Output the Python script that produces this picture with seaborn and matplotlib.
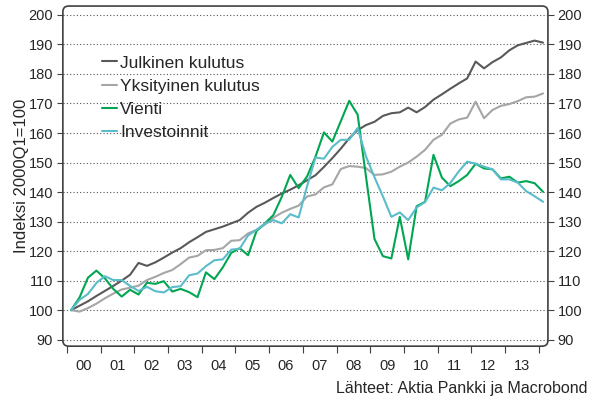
import numpy as np
import pandas as pd
import matplotlib
matplotlib.use('Agg')
import matplotlib.pyplot as plt
import seaborn as sns
from matplotlib.patches import FancyBboxPatch

# neljännesvuodet 2000Q1 - 2014Q1
quarters = pd.period_range('2000Q1', '2014Q1', freq='Q')

julkinen = [100, 101.5, 103, 104.8, 106.5, 108.2, 110, 112, 116, 115,
            116.2, 117.8, 119.5, 121, 123, 124.7, 126.5, 127.4, 128.3, 129.4,
            130.5, 133, 135, 136.4, 138, 139.5, 140.8, 142.3, 144, 145.7,
            148.5, 151.5, 154.7, 158.2, 161, 162.7, 163.8, 165.8, 166.7, 167,
            168.6, 167, 168.8, 171.3, 173.1, 175, 176.8, 178.5, 184.2, 181.9,
            184, 185.6, 188, 189.7, 190.5, 191.3, 190.6]
yksityinen = [100, 99.5, 100.7, 102.2, 104, 105.6, 107, 107.6, 108.3, 110.2,
              111.3, 112.6, 113.6, 115.6, 117.8, 118.4, 120.3, 120.4, 121, 123.5,
              123.7, 126, 127.2, 129, 131.3, 133, 134.3, 135.4, 138.5, 139.2,
              141.6, 142.6, 147.8, 148.8, 148.6, 148.1, 145.8, 146, 146.9, 148.6,
              150, 152, 154.3, 157.7, 159.4, 163.2, 164.6, 165.2, 170.6, 165,
              167.8, 169.2, 169.8, 170.8, 172.1, 172.3, 173.4]
vienti = [100, 104.3, 111, 113.4, 110.8, 107.2, 104.6, 106.9, 105.3, 109.3,
          108.9, 109.8, 106.3, 107.2, 106.1, 104.4, 112.8, 110.5, 114.5, 119.4,
          121, 118.6, 126.8, 129.4, 132.2, 138.4, 145.8, 141.3, 145.3, 152,
          160.2, 157.1, 164, 170.9, 166.2, 145, 124.1, 118.3, 117.5, 131.6,
          117.2, 135.2, 136.7, 152.6, 144.9, 142, 143.7, 145.8, 149.6, 148,
          147.7, 144.6, 145.2, 143.2, 143.7, 143, 140.1]
investoinnit = [100, 103.5, 105.5, 109.2, 111.5, 110.2, 110.2, 108.2, 106.5, 107.9,
                106.4, 106, 107.8, 108.1, 111.8, 112.4, 114.9, 116.9, 117.2, 120.5,
                120.8, 125.3, 127.2, 129.3, 130.5, 129.4, 132.5, 131.4, 142, 151.7,
                151.3, 155.3, 157.7, 157.7, 161.7, 152, 145, 138.5, 131.6, 133.1,
                130.5, 134.8, 136.6, 141.5, 140.6, 143.1, 147, 150.3, 149.6, 148.6,
                147.7, 144.3, 144.3, 143.2, 140.3, 138.6, 136.7]

series = ['Julkinen kulutus', 'Yksityinen kulutus', 'Vienti', 'Investoinnit']
colors = ['#595959', '#a6a6a6', '#00a651', '#5bbccb']
year_labels = ['00', '01', '02', '03', '04', '05', '06', '07', '08', '09', '10', '11', '12', '13']

x = quarters.year + (quarters.quarter - 0.5) / 4
df = pd.DataFrame({'x': x, series[0]: julkinen, series[1]: yksityinen,
                   series[2]: vienti, series[3]: investoinnit})
df = df.melt('x', var_name='sarja', value_name='arvo')

sns.set_style('white')
plt.rcParams['font.family'] = ['Liberation Sans', 'DejaVu Sans']

fig = plt.figure(figsize=(5.93, 4.03), dpi=100)
ax = fig.add_axes([0.106, 0.141, 0.818, 0.844])

sns.lineplot(data=df, x='x', y='arvo', hue='sarja', hue_order=series,
             palette=dict(zip(series, colors)), linewidth=1.5, ax=ax)

ax.set_xlim(1999.88, 2014.27)
ax.set_ylim(87.8, 203)
ax.set_yticks(range(90, 201, 10))
ax.set_xticks(range(2000, 2015))
ax.set_xticklabels([])
ax.set_xticks(np.arange(2000.5, 2014), minor=True)
ax.set_xticklabels(year_labels, minor=True)
ax.tick_params(axis='x', which='major', bottom=True, direction='out', length=5, color='#404040')
ax.tick_params(axis='x', which='minor', bottom=True, length=0, pad=9, labelsize=10.5)
ax.tick_params(axis='y', left=True, right=True, labelleft=True, labelright=True,
               direction='out', length=4, pad=3, color='#404040', labelsize=10.5)
ax.grid(axis='y', linestyle=(0, (1, 2)), color='#555555', linewidth=0.8)
ax.set_xlabel('')
ax.set_ylabel('Indeksi 2000Q1=100', fontsize=12, labelpad=0)

for s in ax.spines.values():
    s.set_visible(False)
frame = FancyBboxPatch((0, 0), 1, 1, boxstyle='round,pad=0,rounding_size=0.012',
                       mutation_aspect=1.43, transform=ax.transAxes, facecolor='none',
                       edgecolor='#404040', linewidth=1.2, clip_on=False)
ax.add_patch(frame)

ax.legend(loc='upper left', bbox_to_anchor=(0.08, 0.855), frameon=False, fontsize=12.5,
          handlelength=0.9, handletextpad=0.15, labelspacing=0.46, borderpad=0, borderaxespad=0)

fig.text(0.99, 0.035, 'Lähteet: Aktia Pankki ja Macrobond', ha='right', va='center', fontsize=11.5)

plt.savefig('out.png', dpi=100)
